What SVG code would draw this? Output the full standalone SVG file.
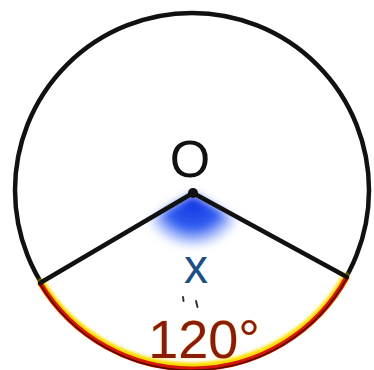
<svg xmlns="http://www.w3.org/2000/svg" width="374" height="370" viewBox="0 0 374 370">
  <defs>
    <style>
      .blk { fill: none; stroke: #111; stroke-width: 4.5; stroke-linecap: round; }
      .lbl { font-family: "Liberation Sans", Arial, sans-serif; text-anchor: middle; }
    </style>
    <filter id="blur4" x="-50%" y="-50%" width="200%" height="200%">
      <feGaussianBlur stdDeviation="4.5"/>
    </filter>
    <filter id="blur2" x="-20%" y="-20%" width="140%" height="140%">
      <feGaussianBlur stdDeviation="1.5"/>
    </filter>
    <radialGradient id="blueGrad" cx="193" cy="198" r="55" gradientUnits="userSpaceOnUse">
      <stop offset="0" stop-color="#1030e0"/>
      <stop offset="0.55" stop-color="#2f5cf0"/>
      <stop offset="1" stop-color="#9fb8ff" stop-opacity="0"/>
    </radialGradient>
  </defs>
  <rect width="374" height="370" fill="#fff"/>

  <g id="angle-shade">
    <path d="M193,194 L148,220 A52,52 0 0 0 238,220 Z" fill="url(#blueGrad)" filter="url(#blur4)"/>
  </g>

  <g id="circle">
    <circle cx="192" cy="190" r="177" class="blk"/>
  </g>

  <g id="arc">
    <path d="M40,283 A177,177 0 0 0 347,277" fill="none" stroke="#ffe000" stroke-width="7" filter="url(#blur2)" transform="translate(0,-3)"/>
    <path d="M40,283 A177,177 0 0 0 347,277" fill="none" stroke="#d41808" stroke-width="5"/>
    <path d="M40,283 A177,177 0 0 0 347,277" fill="none" stroke="#5a0a05" stroke-width="1.5" transform="translate(0,1.2)"/>
  </g>

  <g id="connectors">
    <line x1="193" y1="193" x2="40" y2="283" class="blk"/>
    <line x1="193" y1="193" x2="347" y2="277" class="blk"/>
  </g>

  <g id="center">
    <circle cx="193" cy="193" r="5" fill="#111"/>
    <text x="190" y="177" class="lbl" font-size="52" fill="#111">O</text>
  </g>

  <g id="label-x">
    <text x="196" y="283" class="lbl" font-size="48" fill="#1c4f86">x</text>
    <path d="M183,297 l0.5,4 M196,301 l1.5,6" stroke="#333" stroke-width="2" stroke-linecap="round"/>
  </g>

  <g id="label-120">
    <text x="204" y="358" class="lbl" font-size="54" fill="#8a1c0c" stroke="#ffd860" stroke-width="0.6" paint-order="stroke">120°</text>
  </g>
</svg>
